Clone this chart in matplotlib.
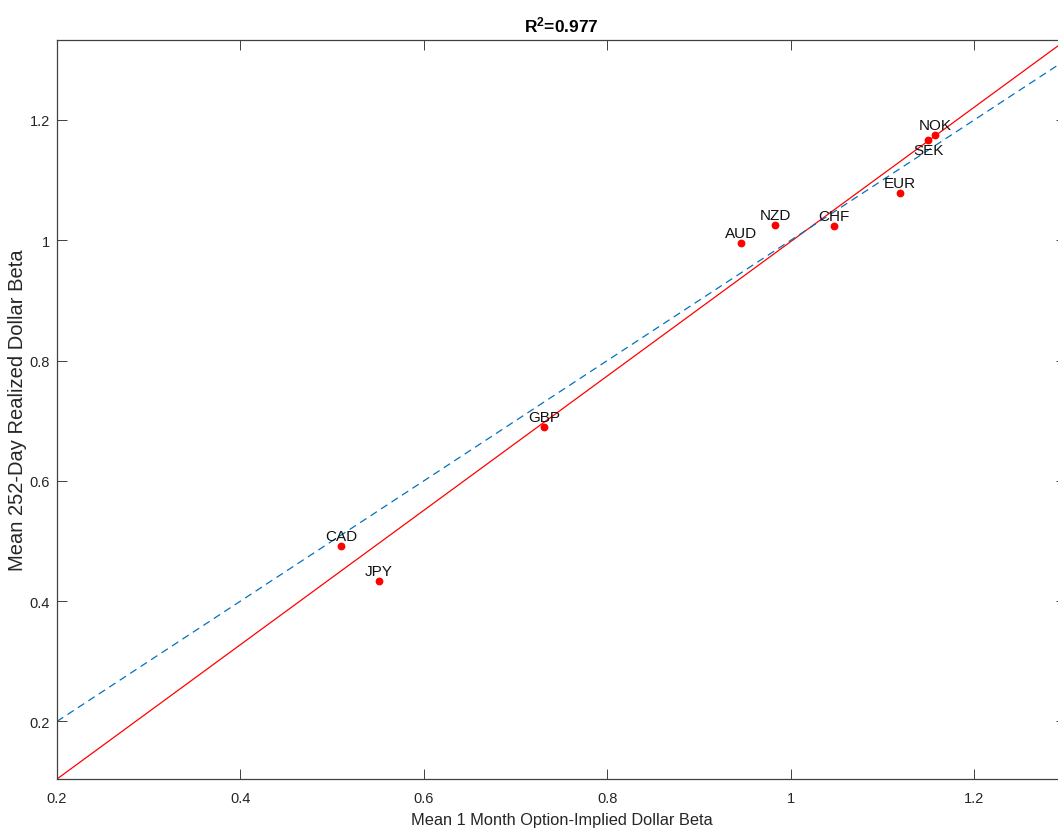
import numpy as np
import matplotlib
matplotlib.use("Agg")
import matplotlib.pyplot as plt

# currency betas
currencies = ["NOK", "SEK", "EUR", "CHF", "NZD", "AUD", "GBP", "CAD", "JPY"]
implied_beta = [1.157, 1.150, 1.119, 1.047, 0.983, 0.946, 0.731, 0.510, 0.551]
realized_beta = [1.175, 1.167, 1.079, 1.024, 1.026, 0.996, 0.689, 0.491, 0.433]
label_below = ["SEK"]

x_range = [0.2, 1.3]
xticks = [0.2, 0.4, 0.6, 0.8, 1.0, 1.2]
yticks = [0.2, 0.4, 0.6, 0.8, 1.0, 1.2]

plt.rcParams['font.family'] = ["Liberation Sans", "DejaVu Sans"]
plt.rcParams['mathtext.fontset'] = 'custom'
plt.rcParams['mathtext.rm'] = 'Liberation Sans'
plt.rcParams['mathtext.bf'] = 'Liberation Sans:bold'

x = np.array(implied_beta)
y = np.array(realized_beta)
slope, intercept = np.polyfit(x, y, 1)
r2 = np.corrcoef(x, y)[0, 1] ** 2

fig = plt.figure(figsize=(10.58, 8.37), dpi=100)
W, H = 1058, 837
ax = fig.add_axes([57 / W, (H - 780) / H, (1066 - 57) / W, (780 - 41) / H])

xs = np.array(x_range)
ax.plot(xs, slope * xs + intercept, color="#ff0000", lw=0.9, zorder=2)
ax.plot(xs, xs, color="#0072BD", lw=0.9, ls=(0, (6, 4)), zorder=2)
ax.plot(x, y, 'o', color="#ff0000", ms=4.6, zorder=3)

for name, xi, yi in zip(currencies, x, y):
    if name in label_below:
        ax.text(xi, yi - 0.005, name, ha="center", va="top", fontsize=11, color="#111111")
    else:
        ax.text(xi, yi + 0.005, name, ha="center", va="bottom", fontsize=11, color="#111111")

ax.set_xlim(x_range)
ax.set_ylim(slope * x_range[0] + intercept, slope * x_range[1] + intercept)
ax.set_xticks(xticks)
ax.set_yticks(yticks)
ax.set_xticklabels(["0.2", "0.4", "0.6", "0.8", "1", "1.2"])
ax.set_yticklabels(["0.2", "0.4", "0.6", "0.8", "1", "1.2"])
ax.tick_params(direction="in", length=7, width=0.7, color="#404040", labelcolor="#262626",
               labelsize=10.5, top=True, right=True)
ax.tick_params(axis="x", pad=9)
ax.tick_params(axis="y", pad=5)
for s in ax.spines.values():
    s.set_color("#404040")
    s.set_linewidth(0.9)

ax.set_xlabel("Mean 1 Month Option-Implied Dollar Beta", fontsize=11.8, color="#262626", labelpad=5)
ax.set_ylabel("Mean 252-Day Realized Dollar Beta", fontsize=14.5, color="#262626")
ax.yaxis.set_label_coords((27 - 57) / 1009, 0.5)
ax.set_title(r"$\mathbf{R^2}$" + "=%.3f" % r2, fontsize=12.5, fontweight="bold", pad=6)

fig.savefig("out.png", dpi=100)
